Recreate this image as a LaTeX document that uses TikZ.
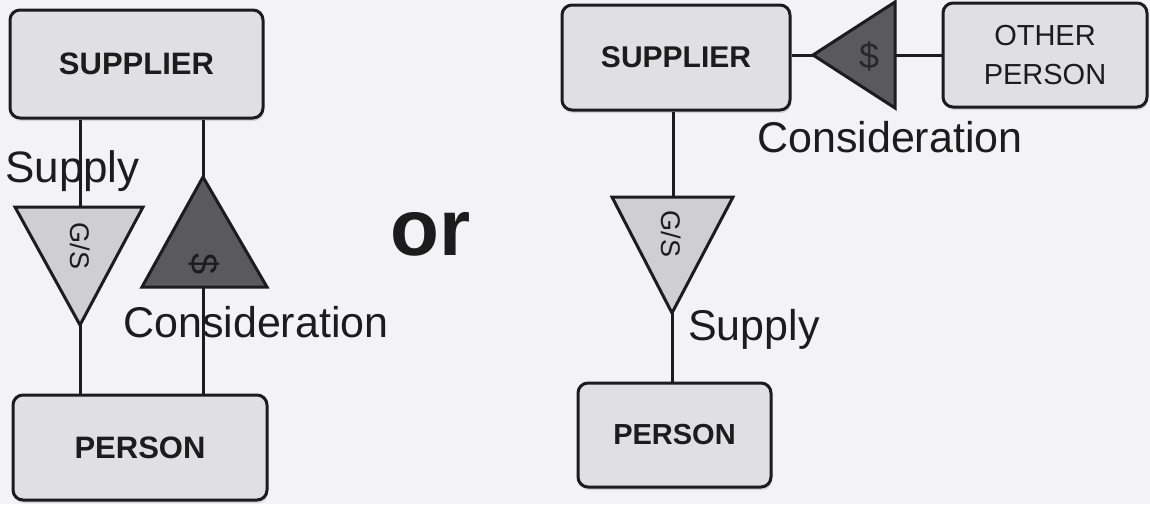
\documentclass[tikz,border=0pt]{standalone}
\usepackage{fontspec}
\setmainfont{Liberation Sans}
\usetikzlibrary{shadows}
\definecolor{bg}{HTML}{F3F3F5}
\definecolor{boxfill}{HTML}{E0E0E2}
\definecolor{gsfill}{HTML}{CFCFD1}
\definecolor{dfill}{HTML}{5A5A5C}
\definecolor{ink}{HTML}{1C1C1C}
\tikzset{
  entity/.style={draw=ink, line width=3pt, fill=boxfill, rounded corners=10pt,
    inner sep=0pt, align=center, text=ink,
    drop shadow={opacity=0.25, shadow xshift=1pt, shadow yshift=-3pt}},
  boxlabel/.style={font=\bfseries\fontsize{31}{37}\selectfont},
  link/.style={draw=ink, line width=3pt},
  tri/.style={draw=ink, line width=3pt, line join=miter},
  biglabel/.style={inner sep=0pt, anchor=base west, text=ink, font=\fontsize{43}{50}\selectfont},
  gslabel/.style={inner sep=0pt, text=ink, font=\fontsize{27}{30}\selectfont, rotate=-90},
  dollar/.style={inner sep=0pt, text=ink, font=\fontsize{38}{42}\selectfont}
}
\begin{document}
\begin{tikzpicture}[x=1pt,y=-1pt]
\fill[bg] (0,0) rectangle (1150,504);
\useasboundingbox (0,0) rectangle (1150,504);

% ---------- left diagram ----------
\node[entity, boxlabel, minimum width=253pt, minimum height=108pt] (supL) at (136.5,64) {SUPPLIER};
\node[entity, boxlabel, minimum width=254pt, minimum height=105pt] (perL) at (140,447.5) {PERSON};

% G/S triangle (down)
\coordinate (gsLtop) at (80,207);
\coordinate (gsLapex) at (80,325);
\draw[tri, fill=gsfill] (15,207) -- (143,207) -- (gsLapex) -- cycle;
\node[gslabel] (gsLtext) at (80,246) {G/S};

% $ triangle (up)
\coordinate (dLapex) at (203,177);
\coordinate (dLbase) at (203,287);
\draw[tri, fill=dfill] (dLapex) -- (267,287) -- (142,287) -- cycle;
\node[dollar, rotate=-90] (dLtext) at (204,264) {\$};

\draw[link] (gsLtop |- supL.south) -- (gsLtop);
\draw[link] (gsLapex) -- (gsLapex |- perL.north);
\draw[link] (dLapex |- supL.south) -- (dLapex);
\draw[link] (dLbase) -- (dLbase |- perL.north);

\node[biglabel, font=\fontsize{44}{50}\selectfont] (supplyL) at (5,182) {Supply};
\node[biglabel] (consL) at (123,337) {Consideration};

% ---------- "or" ----------
\node[inner sep=0pt, anchor=base west, text=ink, font=\bfseries\fontsize{80}{90}\selectfont] (or) at (390,255) {or};

% ---------- right diagram ----------
\node[entity, boxlabel, font=\bfseries\fontsize{30}{36}\selectfont, minimum width=228pt, minimum height=105pt] (supR) at (676,57.5) {SUPPLIER};
\node[entity, boxlabel, font=\bfseries\fontsize{29}{35}\selectfont, minimum width=193pt, minimum height=104pt] (perR) at (674.5,435) {PERSON};
\node[entity, font=\fontsize{29}{39}\selectfont, minimum width=204pt, minimum height=104pt] (other) at (1045,55) {OTHER\\PERSON};

% $ triangle (left-pointing)
\coordinate (dRapex) at (813,55);
\coordinate (dRbase) at (895,55);
\draw[tri, fill=dfill] (dRapex) -- (895,2) -- (895,108) -- cycle;
\node[dollar, font=\fontsize{36}{40}\selectfont, text=ink!80!dfill] (dRtext) at (869,56) {\$};

\draw[link] (supR.east |- dRapex) -- (dRapex);
\draw[link] (dRbase) -- (other.west |- dRbase);

% G/S triangle (down)
\coordinate (gsRtop) at (673,197);
\coordinate (gsRapex) at (672,313);
\draw[tri, fill=gsfill] (612,197) -- (733,197) -- (gsRapex) -- cycle;
\node[gslabel] (gsRtext) at (671,234) {G/S};

\draw[link] (gsRtop |- supR.south) -- (gsRtop);
\draw[link] (gsRapex) -- (gsRapex |- perR.north);

\node[biglabel] (consR) at (757,152) {Consideration};
\node[biglabel] (supplyR) at (688,340) {Supply};
\end{tikzpicture}
\end{document}
